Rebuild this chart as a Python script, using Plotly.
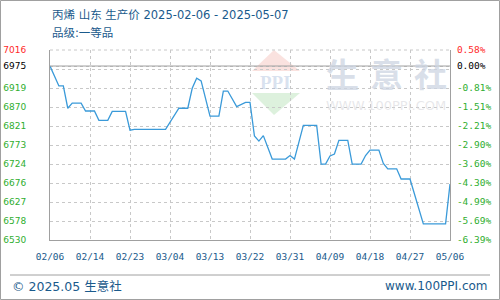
import plotly.graph_objects as go
import pandas as pd

# ---- data ----
dates = ["2025-02-06", "2025-02-08", "2025-02-09", "2025-02-10", "2025-02-11", "2025-02-13",
         "2025-02-14", "2025-02-16", "2025-02-17", "2025-02-19", "2025-02-20", "2025-02-23",
         "2025-02-24", "2025-02-25", "2025-03-04", "2025-03-07", "2025-03-09", "2025-03-10",
         "2025-03-11", "2025-03-12", "2025-03-14", "2025-03-16", "2025-03-17", "2025-03-18",
         "2025-03-20", "2025-03-22", "2025-03-23", "2025-03-24", "2025-03-25", "2025-03-26",
         "2025-03-28", "2025-03-31", "2025-04-01", "2025-04-02", "2025-04-04", "2025-04-07",
         "2025-04-08", "2025-04-09", "2025-04-10", "2025-04-11", "2025-04-12", "2025-04-14",
         "2025-04-15", "2025-04-17", "2025-04-18", "2025-04-19", "2025-04-21", "2025-04-22",
         "2025-04-23", "2025-04-25", "2025-04-26", "2025-04-28", "2025-05-01", "2025-05-06",
         "2025-05-07"]
prices = [6975, 6924, 6924, 6867, 6880, 6880,
          6860, 6860, 6836, 6836, 6859, 6859,
          6811, 6813, 6813, 6867, 6867, 6918,
          6944, 6937, 6847, 6847, 6911, 6911,
          6871, 6882, 6882, 6796, 6783, 6797,
          6737, 6737, 6746, 6737, 6823, 6823,
          6724, 6724, 6745, 6750, 6785, 6785,
          6724, 6724, 6746, 6760, 6760, 6726,
          6712, 6712, 6686, 6686, 6571, 6571,
          6673]

x_tick_labels = ["02/06", "02/14", "02/23", "03/04", "03/13", "03/22",
                 "03/31", "04/09", "04/18", "04/27", "05/06"]
y_tick_vals = [6530, 6578.6, 6627.2, 6675.8, 6724.4, 6773.0, 6821.6,
               6870.2, 6918.8, 6967.4, 6975, 7016]
y_left_labels = ["6530", "6578", "6627", "6676", "6724", "6773", "6821",
                 "6870", "6919", "", "6975", "7016"]
y_right_labels = ["-6.39%", "-5.69%", "-4.99%", "-4.30%", "-3.60%", "-2.90%", "-2.21%",
                  "-1.51%", "-0.81%", "", "0.00%", "0.58%"]
base_price = 6975

title_line1 = "丙烯 山东 生产价 2025-02-06 - 2025-05-07"
title_line2 = "品级:一等品"
footer_left = "© 2025.05 生意社"
footer_right = "www.100PPI.com"
watermark_chars = ["生", "意", "社"]
watermark_url = "WWW.100PPI.COM"

# ---- styling ----
GREEN = "#2fae2f"
RED = "#ff2a2a"
BLACK = "#000000"
BLUE_TXT = "#1a5a8c"
GRID = "#c8c8c8"
BORDER = "#a0a0a0"
WM = "rgba(205,213,226,0.75)"


def colour_for(v):
    if v > base_price:
        return RED
    if v == base_price:
        return BLACK
    return GREEN


left_text = [f"<span style='color:{colour_for(v)}'>{t}</span>" if t else ""
             for v, t in zip(y_tick_vals, y_left_labels)]
right_text = [f"<span style='color:{colour_for(v)}'>{t}</span>" if t else ""
              for v, t in zip(y_tick_vals, y_right_labels)]

x_start = pd.Timestamp(dates[0])
x_end = pd.Timestamp(dates[-1])
x_tick_vals = [(x_start + pd.Timedelta(days=9 * k)).strftime("%Y-%m-%d")
               for k in range(len(x_tick_labels))]

fig = go.Figure()
fig.add_trace(go.Scatter(x=dates, y=prices, mode="lines",
                         line=dict(color="#3a9ad9", width=1.3),
                         hoverinfo="skip", showlegend=False))
fig.add_trace(go.Scatter(x=dates, y=prices, mode="lines", yaxis="y2",
                         line=dict(color="rgba(0,0,0,0)", width=0),
                         hoverinfo="skip", showlegend=False))

yr = [6530, 7016]
fig.update_layout(
    width=500, height=300,
    margin=dict(l=50, r=50, t=50, b=60, autoexpand=False),
    paper_bgcolor="white", plot_bgcolor="white",
    showlegend=False,
    xaxis=dict(
        type="date", automargin=False,
        range=[x_start.strftime("%Y-%m-%d"), x_end.strftime("%Y-%m-%d")],
        tickmode="array", tickvals=x_tick_vals, ticktext=x_tick_labels,
        showgrid=True, gridcolor=GRID, griddash="3px,3px", gridwidth=1,
        showline=True, linecolor=BORDER, linewidth=1,
        ticks="", zeroline=False,
        tickfont=dict(family="DejaVu Sans Mono", size=9.5, color=BLUE_TXT),
        ticklabelstandoff=8,
    ),
    yaxis=dict(
        automargin=False,
        range=yr, tickmode="array", tickvals=y_tick_vals, ticktext=left_text,
        showgrid=True, gridcolor=GRID, griddash="3px,3px", gridwidth=1,
        showline=True, linecolor=BORDER, linewidth=1,
        ticks="", zeroline=False,
        tickfont=dict(family="DejaVu Sans", size=9),
        ticklabelstandoff=21,
    ),
    yaxis2=dict(
        automargin=False,
        range=yr, overlaying="y", side="right",
        tickmode="array", tickvals=y_tick_vals, ticktext=right_text,
        showgrid=False, showline=True, linecolor=BORDER, linewidth=1,
        ticks="", zeroline=False,
        tickfont=dict(family="DejaVu Sans Mono", size=9.5),
        ticklabelstandoff=4,
    ),
)

W, H, L, T, B = 400.0, 190.0, 50.0, 50.0, 240.0


def px(xp):
    return (xp - L) / W


def py(yp):
    return (B - yp) / H


shapes = []
# dashed top edge of plot
shapes.append(dict(type="line", xref="paper", yref="paper", x0=0, x1=1, y0=1, y1=1,
                   line=dict(color=GRID, width=1, dash="3px,3px")))
# solid base line at base price
shapes.append(dict(type="line", xref="paper", yref="y", x0=0, x1=1,
                   y0=base_price, y1=base_price, line=dict(color=BORDER, width=1)))
# watermark logo (PPI)
shapes.append(dict(type="path", xref="paper", yref="paper", layer="below",
                   path=f"M {px(252)} {py(71)} L {px(274)} {py(50)} L {px(300)} {py(71)} Z",
                   fillcolor="rgba(240,160,150,0.30)", line=dict(width=0)))
shapes.append(dict(type="path", xref="paper", yref="paper", layer="below",
                   path=f"M {px(252)} {py(93)} L {px(300)} {py(93)} L {px(274)} {py(115)} Z",
                   fillcolor="rgba(150,210,150,0.32)", line=dict(width=0)))
# footer separator
shapes.append(dict(type="line", xref="paper", yref="paper", x0=px(10), x1=px(490),
                   y0=py(275), y1=py(275), line=dict(color=BORDER, width=1)))
# outer border
shapes.append(dict(type="rect", xref="paper", yref="paper", x0=px(0.5), x1=px(499.5),
                   y0=py(299.5), y1=py(0.5), line=dict(color=BORDER, width=1)))
fig.update_layout(shapes=shapes)

ann = []
TITLE_FONT = "DejaVu Sans, Noto Sans CJK SC"
ann.append(dict(text=title_line1, xref="paper", yref="paper", x=px(50), y=py(15),
                xanchor="left", yanchor="middle", showarrow=False,
                font=dict(family=TITLE_FONT, size=11.5, color=BLUE_TXT)))
ann.append(dict(text=title_line2, xref="paper", yref="paper", x=px(50), y=py(33),
                xanchor="left", yanchor="middle", showarrow=False,
                font=dict(family=TITLE_FONT, size=11.5, color=BLUE_TXT)))
ann.append(dict(text=footer_left, xref="paper", yref="paper", x=px(10), y=py(286),
                xanchor="left", yanchor="middle", showarrow=False,
                font=dict(family=TITLE_FONT, size=12.5, color=BLUE_TXT)))
ann.append(dict(text=footer_right, xref="paper", yref="paper", x=px(490), y=py(286),
                xanchor="right", yanchor="middle", showarrow=False,
                font=dict(family="DejaVu Sans", size=12, color=BLUE_TXT)))
# watermark text
for ch, cx in zip(watermark_chars, [342, 386, 430]):
    ann.append(dict(text=f"<b>{ch}</b>", xref="paper", yref="paper", x=px(cx), y=py(73),
                    xanchor="center", yanchor="middle", showarrow=False,
                    font=dict(family="Noto Sans CJK SC", size=33, color=WM)))
ann.append(dict(text=watermark_url, xref="paper", yref="paper", x=px(386), y=py(105),
                xanchor="center", yanchor="middle", showarrow=False,
                font=dict(family="DejaVu Sans", size=13, color="rgba(215,215,220,0.6)")))
ann.append(dict(text="<b>PPI</b>", xref="paper", yref="paper", x=px(275), y=py(82),
                xanchor="center", yanchor="middle", showarrow=False,
                font=dict(family="Liberation Serif", size=19, color="rgba(170,190,220,0.45)")))
fig.update_layout(annotations=ann)

fig.write_html("out.html", config={"displayModeBar": False})
